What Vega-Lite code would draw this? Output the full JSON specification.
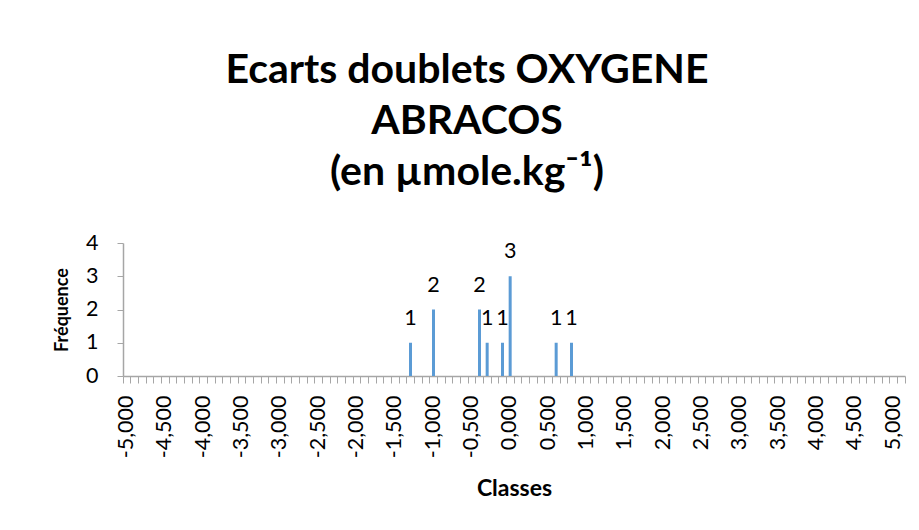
{
  "$schema": "https://vega.github.io/schema/vega-lite/v6.json",
  "autosize": {"type": "none"},
  "padding": {"left": 123, "top": 243, "right": 14, "bottom": 154},
  "width": 782,
  "height": 133,
  "background": "white",
  "config": {"view": {"stroke": null}, "font": "Lato"},
  "title": {
    "text": ["Ecarts doublets OXYGENE", "ABRACOS", "(en µmole.kg⁻¹)"],
    "font": "Lato",
    "fontSize": 41,
    "fontWeight": "bold",
    "color": "#000000",
    "lineHeight": 51,
    "anchor": "middle",
    "dx": -47,
    "offset": 38
  },
  "data": {
    "values": [
      {"classe": "-5,000", "frequence": 0}, {"classe": "-4,900", "frequence": 0}, {"classe": "-4,800", "frequence": 0}, {"classe": "-4,700", "frequence": 0}, {"classe": "-4,600", "frequence": 0},
      {"classe": "-4,500", "frequence": 0}, {"classe": "-4,400", "frequence": 0}, {"classe": "-4,300", "frequence": 0}, {"classe": "-4,200", "frequence": 0}, {"classe": "-4,100", "frequence": 0},
      {"classe": "-4,000", "frequence": 0}, {"classe": "-3,900", "frequence": 0}, {"classe": "-3,800", "frequence": 0}, {"classe": "-3,700", "frequence": 0}, {"classe": "-3,600", "frequence": 0},
      {"classe": "-3,500", "frequence": 0}, {"classe": "-3,400", "frequence": 0}, {"classe": "-3,300", "frequence": 0}, {"classe": "-3,200", "frequence": 0}, {"classe": "-3,100", "frequence": 0},
      {"classe": "-3,000", "frequence": 0}, {"classe": "-2,900", "frequence": 0}, {"classe": "-2,800", "frequence": 0}, {"classe": "-2,700", "frequence": 0}, {"classe": "-2,600", "frequence": 0},
      {"classe": "-2,500", "frequence": 0}, {"classe": "-2,400", "frequence": 0}, {"classe": "-2,300", "frequence": 0}, {"classe": "-2,200", "frequence": 0}, {"classe": "-2,100", "frequence": 0},
      {"classe": "-2,000", "frequence": 0}, {"classe": "-1,900", "frequence": 0}, {"classe": "-1,800", "frequence": 0}, {"classe": "-1,700", "frequence": 0}, {"classe": "-1,600", "frequence": 0},
      {"classe": "-1,500", "frequence": 0}, {"classe": "-1,400", "frequence": 0}, {"classe": "-1,300", "frequence": 1}, {"classe": "-1,200", "frequence": 0}, {"classe": "-1,100", "frequence": 0},
      {"classe": "-1,000", "frequence": 2}, {"classe": "-0,900", "frequence": 0}, {"classe": "-0,800", "frequence": 0}, {"classe": "-0,700", "frequence": 0}, {"classe": "-0,600", "frequence": 0},
      {"classe": "-0,500", "frequence": 0}, {"classe": "-0,400", "frequence": 2}, {"classe": "-0,300", "frequence": 1}, {"classe": "-0,200", "frequence": 0}, {"classe": "-0,100", "frequence": 1},
      {"classe": "0,000", "frequence": 3}, {"classe": "0,100", "frequence": 0}, {"classe": "0,200", "frequence": 0}, {"classe": "0,300", "frequence": 0}, {"classe": "0,400", "frequence": 0},
      {"classe": "0,500", "frequence": 0}, {"classe": "0,600", "frequence": 1}, {"classe": "0,700", "frequence": 0}, {"classe": "0,800", "frequence": 1}, {"classe": "0,900", "frequence": 0},
      {"classe": "1,000", "frequence": 0}, {"classe": "1,100", "frequence": 0}, {"classe": "1,200", "frequence": 0}, {"classe": "1,300", "frequence": 0}, {"classe": "1,400", "frequence": 0},
      {"classe": "1,500", "frequence": 0}, {"classe": "1,600", "frequence": 0}, {"classe": "1,700", "frequence": 0}, {"classe": "1,800", "frequence": 0}, {"classe": "1,900", "frequence": 0},
      {"classe": "2,000", "frequence": 0}, {"classe": "2,100", "frequence": 0}, {"classe": "2,200", "frequence": 0}, {"classe": "2,300", "frequence": 0}, {"classe": "2,400", "frequence": 0},
      {"classe": "2,500", "frequence": 0}, {"classe": "2,600", "frequence": 0}, {"classe": "2,700", "frequence": 0}, {"classe": "2,800", "frequence": 0}, {"classe": "2,900", "frequence": 0},
      {"classe": "3,000", "frequence": 0}, {"classe": "3,100", "frequence": 0}, {"classe": "3,200", "frequence": 0}, {"classe": "3,300", "frequence": 0}, {"classe": "3,400", "frequence": 0},
      {"classe": "3,500", "frequence": 0}, {"classe": "3,600", "frequence": 0}, {"classe": "3,700", "frequence": 0}, {"classe": "3,800", "frequence": 0}, {"classe": "3,900", "frequence": 0},
      {"classe": "4,000", "frequence": 0}, {"classe": "4,100", "frequence": 0}, {"classe": "4,200", "frequence": 0}, {"classe": "4,300", "frequence": 0}, {"classe": "4,400", "frequence": 0},
      {"classe": "4,500", "frequence": 0}, {"classe": "4,600", "frequence": 0}, {"classe": "4,700", "frequence": 0}, {"classe": "4,800", "frequence": 0}, {"classe": "4,900", "frequence": 0},
      {"classe": "5,000", "frequence": 0}, {"classe": "Autre", "frequence": 0}
    ]
  },
  "encoding": {
    "x": {
      "field": "classe",
      "type": "ordinal",
      "sort": null,
      "scale": {"paddingInner": 0, "paddingOuter": 0},
      "axis": {
        "title": "Classes",
        "titleFont": "Lato",
        "titleFontSize": 23,
        "titleFontWeight": "bold",
        "titleColor": "#000000",
        "titlePadding": 20,
        "labelAngle": -90,
        "labelFont": "Lato",
        "labelFontSize": 21.5,
        "labelColor": "#000000",
        "labelPadding": 12,
        "labelOverlap": false,
        "labelExpr": "isValid(toNumber(replace(datum.value, ',', '.'))) && round(toNumber(replace(datum.value, ',', '.')) * 10) % 5 == 0 ? datum.value : ''",
        "bandPosition": 1,
        "tickExtra": true,
        "tickSize": 7,
        "tickColor": "#A6A6A6",
        "domainColor": "#A6A6A6",
        "tickWidth": 1,
        "domainWidth": 1.5
      }
    },
    "y": {
      "field": "frequence",
      "type": "quantitative",
      "scale": {"domain": [0, 4], "nice": false},
      "axis": {
        "title": "Fréquence",
        "titleFont": "Lato",
        "titleFontSize": 18,
        "titleFontWeight": "bold",
        "titleColor": "#000000",
        "titlePadding": 14,
        "values": [0, 1, 2, 3, 4],
        "grid": false,
        "labelFont": "Lato",
        "labelFontSize": 21.5,
        "labelColor": "#000000",
        "labelPadding": 19,
        "tickSize": 6,
        "tickColor": "#A6A6A6",
        "domainColor": "#A6A6A6",
        "domainWidth": 1.5
      }
    }
  },
  "layer": [
    {
      "mark": {"type": "bar", "size": 3, "color": "#5B9BD5"}
    },
    {
      "transform": [{"filter": "datum.frequence > 0"}],
      "mark": {"type": "text", "font": "Lato", "fontSize": 21.5, "color": "#000000", "baseline": "alphabetic", "dy": -18},
      "encoding": {"text": {"field": "frequence", "type": "quantitative"}}
    }
  ]
}
